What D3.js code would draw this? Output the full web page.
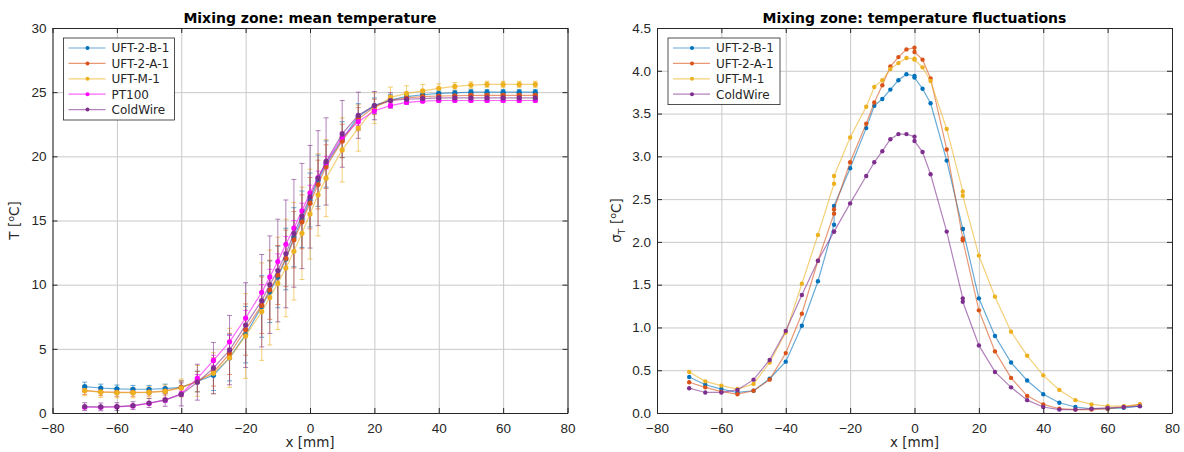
<!DOCTYPE html>
<html>
<head>
<meta charset="utf-8">
<script src="https://cdn.jsdelivr.net/npm/d3@7"></script>
<style>
  body { margin: 0; background: #fff; }
  svg { font-family: "DejaVu Sans", sans-serif; }
  .tick text { fill: #262626; font-size: 13.5px; }
  .grid line { stroke: #c9c9c9; }
  .grid .domain { display: none; }
  .frame .domain, .frame line { stroke: #262626; }
</style>
</head>
<body>
<div id="chart"></div>
<script>
(function () {

  // Traverse positions, mean temperature (mm)
  const xMean = [-70, -65, -60, -55, -50, -45, -40, -35, -30, -25, -20, -15, -12.5, -10, -7.5, -5, -2.5, 0, 2.5, 5, 10, 15, 20, 25, 30, 35, 40, 45, 50, 55, 60, 65, 70]

  const meanB1 = [2.05, 1.95, 1.88, 1.85, 1.85, 1.9, 2.0, 2.45, 2.95, 4.3, 6.1, 8.3, 9.45, 10.6, 12.0, 13.7, 15.1, 16.6, 18.1, 19.4, 21.3, 23.1, 23.95, 24.4, 24.65, 24.8, 24.9, 24.95, 25.0, 25.0, 25.0, 25.0, 25.0]
  const meanA1 = [1.75, 1.65, 1.6, 1.6, 1.62, 1.7, 2.0, 2.45, 3.2, 4.6, 6.5, 8.4, 9.6, 10.75, 12.05, 13.5, 14.9, 16.35, 17.8, 19.2, 21.2, 22.9, 23.85, 24.35, 24.55, 24.65, 24.7, 24.72, 24.75, 24.75, 24.75, 24.75, 24.75]
  const meanM1 = [1.75, 1.62, 1.58, 1.58, 1.6, 1.68, 1.95, 2.5, 3.1, 4.3, 6.0, 7.9, 9.0, 10.1, 11.3, 12.6, 14.0, 15.5, 17.0, 18.3, 20.5, 22.2, 23.75, 24.6, 24.9, 25.1, 25.3, 25.45, 25.55, 25.6, 25.6, 25.6, 25.6]
  const meanPT = [0.45, 0.45, 0.48, 0.55, 0.75, 1.0, 1.5, 2.7, 4.1, 5.55, 7.4, 9.4, 10.6, 11.8, 13.15, 14.4, 15.75, 17.15, 18.35, 19.5, 21.5, 22.7, 23.55, 23.95, 24.2, 24.3, 24.35, 24.35, 24.35, 24.35, 24.35, 24.35, 24.35]
  const meanCW = [0.5, 0.48, 0.5, 0.58, 0.78, 1.02, 1.45, 2.4, 3.5, 4.9, 6.85, 8.75, 10.0, 11.1, 12.4, 14.0, 15.35, 16.85, 18.3, 19.6, 21.75, 23.2, 23.95, 24.35, 24.45, 24.5, 24.55, 24.55, 24.55, 24.55, 24.55, 24.55, 24.55]

  // Error bar half widths
  const errB1 = [0.35, 0.3, 0.3, 0.3, 0.3, 0.35, 0.5, 0.8, 1.2, 1.8, 2.2, 2.4, 2.4, 2.4, 2.4, 2.3, 2.2, 2.1, 2.0, 1.8, 1.4, 1.0, 0.6, 0.4, 0.3, 0.25, 0.2, 0.2, 0.2, 0.2, 0.2, 0.2, 0.2]
  const errA1 = [0.3, 0.3, 0.3, 0.3, 0.3, 0.3, 0.5, 0.8, 1.1, 1.6, 2.0, 2.2, 2.3, 2.3, 2.2, 2.2, 2.1, 2.0, 1.9, 1.7, 1.3, 0.9, 0.6, 0.4, 0.3, 0.25, 0.2, 0.2, 0.2, 0.2, 0.2, 0.2, 0.2]
  const errM1 = [0.4, 0.4, 0.4, 0.4, 0.45, 0.5, 0.7, 1.2, 1.6, 2.3, 3.3, 3.8, 3.7, 3.6, 3.8, 3.8, 3.6, 3.5, 3.2, 3.0, 2.5, 1.8, 1.2, 0.8, 0.6, 0.5, 0.35, 0.3, 0.25, 0.25, 0.25, 0.25, 0.25]
  const errPT = [0.1, 0.1, 0.1, 0.1, 0.1, 0.15, 0.2, 0.3, 0.4, 0.5, 0.6, 0.6, 0.6, 0.6, 0.6, 0.6, 0.6, 0.6, 0.5, 0.5, 0.4, 0.3, 0.2, 0.15, 0.1, 0.1, 0.1, 0.1, 0.1, 0.1, 0.1, 0.1, 0.1]
  const errCW = [0.3, 0.3, 0.3, 0.3, 0.35, 0.5, 0.9, 1.4, 2.0, 2.7, 3.3, 3.6, 3.8, 4.0, 4.2, 4.2, 4.1, 4.0, 3.7, 3.4, 2.6, 1.8, 1.1, 0.6, 0.4, 0.3, 0.3, 0.3, 0.3, 0.3, 0.3, 0.3, 0.3]

  // Traverse positions, fluctuations (repeated points at -25, 0, 15)
  const xFluc = [-70, -65, -60, -55, -50, -45, -40, -35, -30, -25, -25, -20, -15, -12.5, -10, -7.5, -5, -2.5, 0, 0, 2.5, 5, 10, 15, 15, 20, 25, 30, 35, 40, 45, 50, 55, 60, 65, 70]

  const flucB1 = [0.42, 0.33, 0.28, 0.24, 0.26, 0.40, 0.60, 1.02, 1.54, 2.20, 2.42, 2.86, 3.33, 3.59, 3.67, 3.78, 3.89, 3.96, 3.94, 3.92, 3.79, 3.62, 2.95, 2.15, 2.15, 1.34, 0.90, 0.59, 0.38, 0.22, 0.12, 0.07, 0.05, 0.05, 0.06, 0.08]
  const flucA1 = [0.36, 0.30, 0.25, 0.22, 0.26, 0.39, 0.70, 1.16, 1.78, 2.33, 2.38, 2.93, 3.38, 3.63, 3.83, 4.05, 4.16, 4.25, 4.27, 4.22, 4.13, 3.91, 3.08, 2.04, 2.02, 1.20, 0.72, 0.41, 0.20, 0.10, 0.05, 0.04, 0.04, 0.05, 0.07, 0.10]
  const flucM1 = [0.48, 0.37, 0.32, 0.28, 0.34, 0.59, 0.94, 1.51, 2.08, 2.68, 2.77, 3.22, 3.58, 3.81, 3.89, 4.02, 4.09, 4.15, 4.14, 4.13, 4.04, 3.88, 3.32, 2.59, 2.54, 1.84, 1.36, 0.95, 0.67, 0.44, 0.27, 0.15, 0.10, 0.08, 0.08, 0.10]
  const flucCW = [0.29, 0.24, 0.24, 0.27, 0.39, 0.62, 0.96, 1.38, 1.78, 2.12, 2.12, 2.45, 2.77, 2.93, 3.06, 3.20, 3.26, 3.26, 3.23, 3.18, 3.05, 2.79, 2.12, 1.34, 1.30, 0.79, 0.48, 0.30, 0.15, 0.07, 0.04, 0.04, 0.05, 0.06, 0.07, 0.08]

  // Tick labels
  const xTicks = [-80, -60, -40, -20, 0, 20, 40, 60, 80]
  const meanTicks = [0, 5, 10, 15, 20, 25, 30]
  const flucTicks = [0, 0.5, 1, 1.5, 2, 2.5, 3, 3.5, 4, 4.5]

  // MATLAB colours
  const colors = { b1: '#0072BD', a1: '#D95319', m1: '#EDB120', pt: '#FF00FF', cw: '#7E2F8E' }

  const svg = d3.select('#chart').append('svg')
    .attr('width', 1184)
    .attr('height', 452)

  function panel (o) {
    const width = o.right - o.left
    const height = 413 - 28

    const g = svg.append('g')
      .attr('transform', `translate(${o.left},28)`)

    const xScale = d3.scaleLinear().domain([-80, 80]).range([0, width])
    const yScale = d3.scaleLinear().domain(o.yDomain).range([height, 0])

    // Grid
    g.append('g').attr('class', 'grid')
      .attr('transform', `translate(0,${height})`)
      .call(d3.axisBottom(xScale).tickValues(xTicks).tickSize(-height).tickFormat(''))
    g.append('g').attr('class', 'grid')
      .call(d3.axisLeft(yScale).tickValues(o.yTicks).tickSize(-width).tickFormat(''))

    // Error bars
    o.series.filter(s => s.err).forEach(s => {
      const eb = g.append('g')
        .attr('stroke', s.color)
        .attr('stroke-opacity', 0.6)
        .attr('stroke-width', 1)
      o.xs.forEach((x, i) => {
        const cx = xScale(x)
        const y0 = yScale(s.values[i] - s.err[i])
        const y1 = yScale(s.values[i] + s.err[i])
        eb.append('line').attr('x1', cx).attr('x2', cx).attr('y1', y0).attr('y2', y1)
        eb.append('line').attr('x1', cx - 2.5).attr('x2', cx + 2.5).attr('y1', y0).attr('y2', y0)
        eb.append('line').attr('x1', cx - 2.5).attr('x2', cx + 2.5).attr('y1', y1).attr('y2', y1)
      })
    })

    // Lines and markers
    const line = d3.line().x(d => xScale(d[0])).y(d => yScale(d[1]))
    o.series.forEach(s => {
      const pts = o.xs.map((x, i) => [x, s.values[i]])
      g.append('path')
        .datum(pts)
        .attr('d', line)
        .attr('fill', 'none')
        .attr('stroke', s.color)
        .attr('stroke-opacity', 0.6)
        .attr('stroke-width', 1.2)
      g.append('g').selectAll('circle')
        .data(pts)
        .join('circle')
        .attr('cx', d => xScale(d[0]))
        .attr('cy', d => yScale(d[1]))
        .attr('r', o.markerR)
        .attr('fill', s.color)
    })

    // Box with inward ticks
    g.append('g').attr('class', 'frame')
      .attr('transform', `translate(0,${height})`)
      .call(d3.axisBottom(xScale).tickValues(xTicks).tickSizeInner(-5).tickSizeOuter(0).tickPadding(10))
    g.append('g').attr('class', 'frame')
      .call(d3.axisTop(xScale).tickValues(xTicks).tickSizeInner(-5).tickSizeOuter(0).tickFormat(''))
    g.append('g').attr('class', 'frame')
      .call(d3.axisLeft(yScale).tickValues(o.yTicks).tickSizeInner(-5).tickSizeOuter(0).tickPadding(6))
    g.append('g').attr('class', 'frame')
      .attr('transform', `translate(${width},0)`)
      .call(d3.axisRight(yScale).tickValues(o.yTicks).tickSizeInner(-5).tickSizeOuter(0).tickFormat(''))

    // Title and x label
    g.append('text')
      .attr('x', width / 2).attr('y', -5)
      .attr('text-anchor', 'middle')
      .attr('font-weight', 'bold')
      .attr('font-size', 14)
      .attr('fill', '#000')
      .text(o.title)
    g.append('text')
      .attr('x', width / 2).attr('y', height + 34)
      .attr('text-anchor', 'middle')
      .attr('font-size', 13.5)
      .attr('fill', '#262626')
      .text('x [mm]')

    // y label
    const yl = g.append('text')
      .attr('transform', `translate(${o.ylabelX},${height / 2}) rotate(-90)`)
      .attr('text-anchor', 'middle')
      .attr('font-size', 13.5)
      .attr('fill', '#262626')
      .style('white-space', 'pre')
    o.ylabel(yl)

    // Legend
    const lg = g.append('g').attr('transform', `translate(${o.legend.x},${o.legend.y})`)
    lg.append('rect')
      .attr('width', o.legend.w)
      .attr('height', o.series.length * 15.4 + 5)
      .attr('fill', '#fff')
      .attr('stroke', '#262626')
      .attr('stroke-width', 0.8)
    o.series.forEach((s, i) => {
      const ly = 10 + i * 15.4
      lg.append('line')
        .attr('x1', 5).attr('x2', 42).attr('y1', ly).attr('y2', ly)
        .attr('stroke', s.color).attr('stroke-opacity', 0.6).attr('stroke-width', 1.2)
      lg.append('circle').attr('cx', 24).attr('cy', ly).attr('r', 2).attr('fill', s.color)
      lg.append('text')
        .attr('x', 48).attr('y', ly + 4.3)
        .attr('font-size', 12)
        .attr('fill', '#262626')
        .text(s.name)
    })
  }

  panel({
    left: 52.5, right: 567.5,
    yDomain: [0, 30], yTicks: meanTicks,
    title: 'Mixing zone: mean temperature',
    xs: xMean, markerR: 2.6, ylabelX: -34,
    legend: { x: 11, y: 10, w: 111 },
    series: [
      { name: 'UFT-2-B-1', color: colors.b1, values: meanB1, err: errB1 },
      { name: 'UFT-2-A-1', color: colors.a1, values: meanA1, err: errA1 },
      { name: 'UFT-M-1', color: colors.m1, values: meanM1, err: errM1 },
      { name: 'PT100', color: colors.pt, values: meanPT, err: errPT },
      { name: 'ColdWire', color: colors.cw, values: meanCW, err: errCW }
    ],
    ylabel: t => {
      t.append('tspan').text('T [')
      t.append('tspan').attr('dy', -5).attr('font-size', 9.5).text('o')
      t.append('tspan').attr('dy', 5).text('C]')
    }
  })

  panel({
    left: 657, right: 1172,
    yDomain: [0, 4.5], yTicks: flucTicks,
    title: 'Mixing zone: temperature fluctuations',
    xs: xFluc, markerR: 2.2, ylabelX: -36,
    legend: { x: 11, y: 10, w: 112 },
    series: [
      { name: 'UFT-2-B-1', color: colors.b1, values: flucB1 },
      { name: 'UFT-2-A-1', color: colors.a1, values: flucA1 },
      { name: 'UFT-M-1', color: colors.m1, values: flucM1 },
      { name: 'ColdWire', color: colors.cw, values: flucCW }
    ],
    ylabel: t => {
      t.append('tspan').text('σ')
      t.append('tspan').attr('dy', 4).attr('font-size', 9.5).text('T')
      t.append('tspan').attr('dy', -4).text(' [')
      t.append('tspan').attr('dy', -5).attr('font-size', 9.5).text('o')
      t.append('tspan').attr('dy', 5).text('C]')
    }
  })

})();
</script>
</body>
</html>
